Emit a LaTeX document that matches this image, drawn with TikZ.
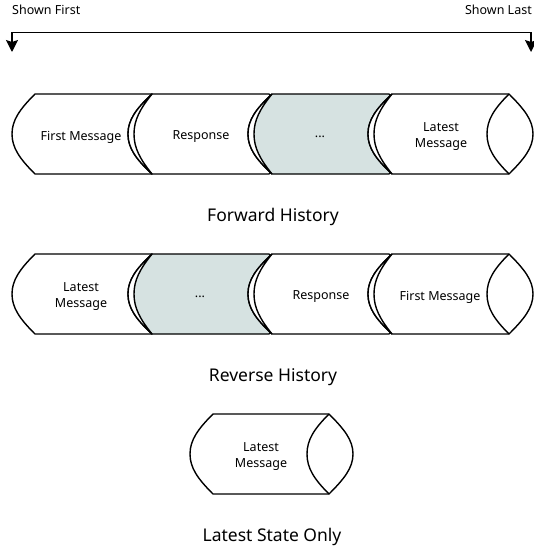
\documentclass[tikz,border=0pt]{standalone}
\usepackage{fontspec}
\setmainfont{Noto Sans}
\usepackage{xcolor}
\usepackage{tikz}
\usetikzlibrary{arrows.meta}

\definecolor{skipgray}{RGB}{214,226,225}

\begin{document}
\begin{tikzpicture}[x=1pt, y=-1pt]
        \tikzstyle{every node}=[font=\fontsize{12.5}{16}\selectfont, align=center, inner sep=0pt]
        \tikzset{
            cyl/.style={draw=black, line width=1.4pt, line join=miter},
            caption/.style={font=\fontsize{17.5}{20}\selectfont},
            order/.style={draw=black, line width=1.4pt, {Stealth[length=12pt,width=12pt,inset=2pt]}-{Stealth[length=12pt,width=12pt,inset=2pt]}}
        }
        \useasboundingbox (0,0) rectangle (534,546);

        % Order arrow
        \node[anchor=west] (shownfirst) at (12,10) {Shown First};
        \node[anchor=east] (shownlast) at (532,10) {Shown Last};
        \coordinate (firstend) at (12,52);
        \coordinate (lastend) at (531,52);
        \draw[order] (firstend) -- ++(0,-19.5) -| (lastend);

        % Forward history (row 1)
        \begin{scope}[shift={(35,94)}]
            \filldraw[cyl, fill=white] (0,0) -- (117,0) .. controls (132,15) and (141,26) .. (141,40) .. controls (141,54) and (132,65) .. (117,80) -- (0,80) .. controls (-15,65) and (-23,54) .. (-23,40) .. controls (-23,26) and (-15,15) .. cycle;
            \node (fwdfirst) at (46,43) {First Message};
        \end{scope}
        \begin{scope}[shift={(152,94)}]
            \filldraw[cyl, fill=white] (0,0) -- (117,0) .. controls (132,15) and (141,26) .. (141,40) .. controls (141,54) and (132,65) .. (117,80) -- (0,80) .. controls (-16,65) and (-24,54) .. (-24,40) .. controls (-24,26) and (-16,15) .. cycle;
            \filldraw[cyl, fill=white] (0,0) .. controls (-16,15) and (-24,26) .. (-24,40) .. controls (-24,54) and (-16,65) .. (0,80) .. controls (-12,65) and (-18,54) .. (-18,40) .. controls (-18,26) and (-12,15) .. cycle;
            \node (fwdresp) at (49,43) {Response};
        \end{scope}
        \begin{scope}[shift={(272,94)}]
            \filldraw[cyl, fill=skipgray] (0,0) -- (117,0) .. controls (132,15) and (141,26) .. (141,40) .. controls (141,54) and (132,65) .. (117,80) -- (0,80) .. controls (-16,65) and (-24,54) .. (-24,40) .. controls (-24,26) and (-16,15) .. cycle;
            \filldraw[cyl, fill=white] (0,0) .. controls (-16,15) and (-24,26) .. (-24,40) .. controls (-24,54) and (-16,65) .. (0,80) .. controls (-12,65) and (-18,54) .. (-18,40) .. controls (-18,26) and (-12,15) .. cycle;
            \node (fwdskip) at (48,43) {...};
        \end{scope}
        \begin{scope}[shift={(392,94)}]
            \filldraw[cyl, fill=white] (0,0) -- (117,0) .. controls (132,15) and (141,26) .. (141,40) .. controls (141,54) and (132,65) .. (117,80) -- (0,80) .. controls (-16,65) and (-24,54) .. (-24,40) .. controls (-24,26) and (-16,15) .. cycle;
            \filldraw[cyl, fill=white] (0,0) .. controls (-16,15) and (-24,26) .. (-24,40) .. controls (-24,54) and (-16,65) .. (0,80) .. controls (-12,65) and (-18,54) .. (-18,40) .. controls (-18,26) and (-12,15) .. cycle;
            \draw[cyl] (117,0) .. controls (102,15) and (95,26) .. (95,40) .. controls (95,54) and (102,65) .. (117,80);
            \node (fwdlatest) at (49,43) {Latest\\Message};
        \end{scope}
        \node[caption] (fwdcap) at (273,217) {Forward History};

        % Reverse history (row 2)
        \begin{scope}[shift={(35,254)}]
            \filldraw[cyl, fill=white] (0,0) -- (117,0) .. controls (132,15) and (141,26) .. (141,40) .. controls (141,54) and (132,65) .. (117,80) -- (0,80) .. controls (-15,65) and (-23,54) .. (-23,40) .. controls (-23,26) and (-15,15) .. cycle;
            \node (revlatest) at (46,43) {Latest\\Message};
        \end{scope}
        \begin{scope}[shift={(152,254)}]
            \filldraw[cyl, fill=skipgray] (0,0) -- (117,0) .. controls (132,15) and (141,26) .. (141,40) .. controls (141,54) and (132,65) .. (117,80) -- (0,80) .. controls (-16,65) and (-24,54) .. (-24,40) .. controls (-24,26) and (-16,15) .. cycle;
            \filldraw[cyl, fill=white] (0,0) .. controls (-16,15) and (-24,26) .. (-24,40) .. controls (-24,54) and (-16,65) .. (0,80) .. controls (-12,65) and (-18,54) .. (-18,40) .. controls (-18,26) and (-12,15) .. cycle;
            \node (revskip) at (48,43) {...};
        \end{scope}
        \begin{scope}[shift={(272,254)}]
            \filldraw[cyl, fill=white] (0,0) -- (117,0) .. controls (132,15) and (141,26) .. (141,40) .. controls (141,54) and (132,65) .. (117,80) -- (0,80) .. controls (-16,65) and (-24,54) .. (-24,40) .. controls (-24,26) and (-16,15) .. cycle;
            \filldraw[cyl, fill=white] (0,0) .. controls (-16,15) and (-24,26) .. (-24,40) .. controls (-24,54) and (-16,65) .. (0,80) .. controls (-12,65) and (-18,54) .. (-18,40) .. controls (-18,26) and (-12,15) .. cycle;
            \node (revresp) at (49,43) {Response};
        \end{scope}
        \begin{scope}[shift={(392,254)}]
            \filldraw[cyl, fill=white] (0,0) -- (117,0) .. controls (132,15) and (141,26) .. (141,40) .. controls (141,54) and (132,65) .. (117,80) -- (0,80) .. controls (-16,65) and (-24,54) .. (-24,40) .. controls (-24,26) and (-16,15) .. cycle;
            \filldraw[cyl, fill=white] (0,0) .. controls (-16,15) and (-24,26) .. (-24,40) .. controls (-24,54) and (-16,65) .. (0,80) .. controls (-12,65) and (-18,54) .. (-18,40) .. controls (-18,26) and (-12,15) .. cycle;
            \draw[cyl] (117,0) .. controls (102,15) and (95,26) .. (95,40) .. controls (95,54) and (102,65) .. (117,80);
            \node (revfirst) at (48,43) {First Message};
        \end{scope}
        \node[caption] (revcap) at (273,377) {Reverse History};

        % Latest state only (row 3)
        \begin{scope}[shift={(213,414)}]
            \filldraw[cyl, fill=white] (0,0) -- (116,0) .. controls (131,15) and (140,26) .. (140,40) .. controls (140,54) and (131,65) .. (116,80) -- (0,80) .. controls (-15,65) and (-23,54) .. (-23,40) .. controls (-23,26) and (-15,15) .. cycle;
            \draw[cyl] (116,0) .. controls (101,15) and (94,26) .. (94,40) .. controls (94,54) and (101,65) .. (116,80);
            \node (stlatest) at (48,43) {Latest\\Message};
        \end{scope}
        \node[caption] (stcap) at (272,537) {Latest State Only};
\end{tikzpicture}
\end{document}
